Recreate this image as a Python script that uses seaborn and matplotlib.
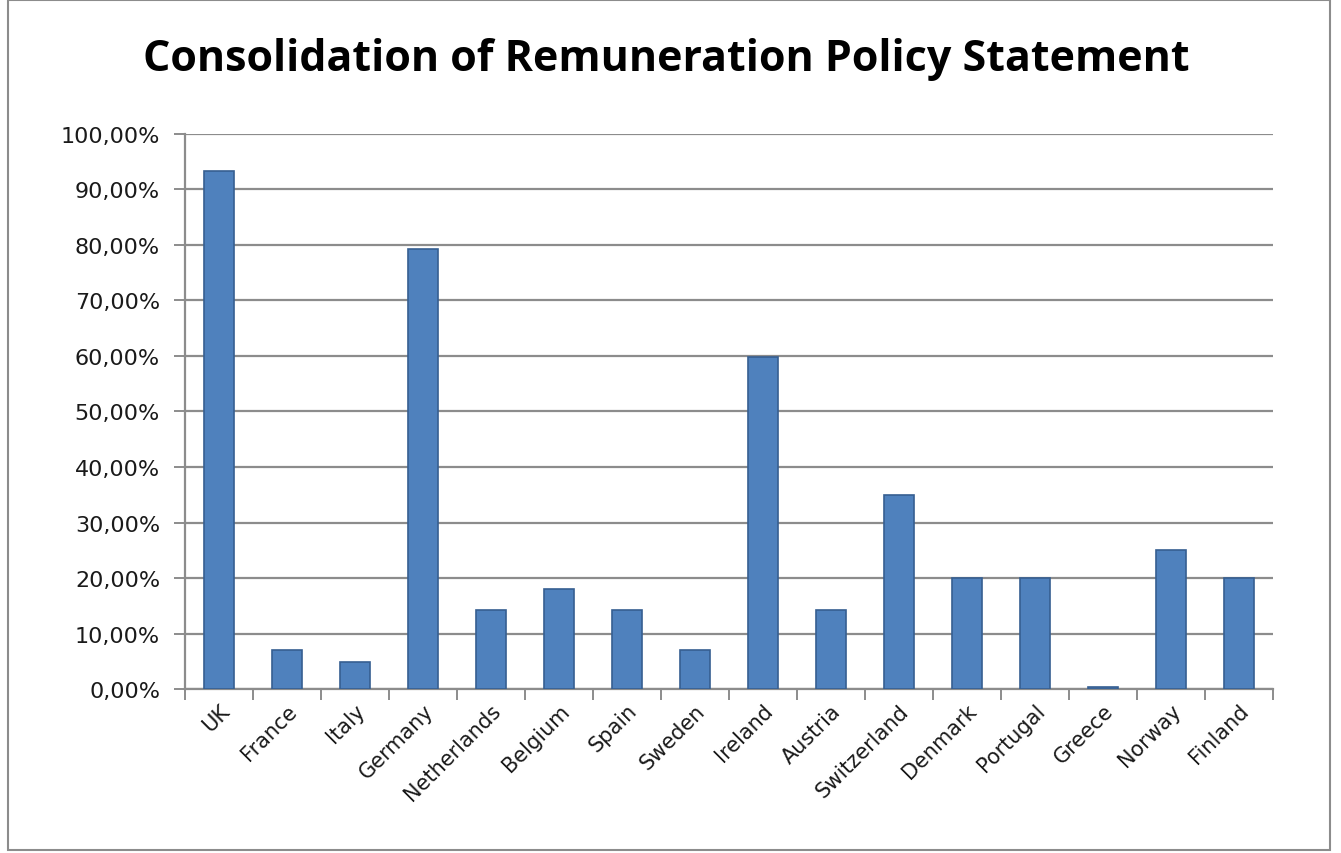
import matplotlib
matplotlib.use("Agg")
import matplotlib.pyplot as plt
import seaborn as sns
import pandas as pd
from matplotlib.ticker import FuncFormatter
from matplotlib.patches import Rectangle

countries = ["UK", "France", "Italy", "Germany", "Netherlands", "Belgium", "Spain",
             "Sweden", "Ireland", "Austria", "Switzerland", "Denmark", "Portugal",
             "Greece", "Norway", "Finland"]
values = [93.3, 7.1, 4.8, 79.3, 14.3, 18.0, 14.3, 7.0, 59.8, 14.3, 35.0, 20.0, 20.0,
          0.3, 25.0, 20.0]
title = "Consolidation of Remuneration Policy Statement"

df = pd.DataFrame({"country": countries, "value": values})

sns.set_theme(style="white")
plt.rcParams["font.family"] = ["DejaVu Sans"]

fig = plt.figure(figsize=(13.41, 8.54), dpi=100)
ax = fig.add_axes([0.138, 0.192, 0.811, 0.650])

sns.barplot(data=df, x="country", y="value", color="#4F81BD", width=0.44,
            edgecolor="#365F91", linewidth=1.2, saturation=1, ax=ax, zorder=3)

ax.set_ylim(0, 100)
ax.set_xlim(-0.5, len(countries) - 0.5)
ax.set_yticks(range(0, 101, 10))
ax.yaxis.set_major_formatter(FuncFormatter(lambda v, p: f"{v:.2f}".replace(".", ",") + "%"))
ax.grid(axis="y", color="#8c8c8c", linewidth=1.6, zorder=0)
ax.set_axisbelow(True)
ax.set_xlabel("")
ax.set_ylabel("")

for s in ["top", "right"]:
    ax.spines[s].set_visible(False)
for s in ["left", "bottom"]:
    ax.spines[s].set_color("#8c8c8c")
    ax.spines[s].set_linewidth(1.6)

ax.tick_params(axis="y", length=8, width=1.4, color="#8c8c8c", labelsize=16,
               labelcolor="#1a1a1a", direction="out", left=True, pad=10)
ax.tick_params(axis="x", length=0, labelsize=15, labelcolor="#1a1a1a", pad=8)
# category boundary ticks
ax.set_xticks([i - 0.5 for i in range(len(countries) + 1)], minor=True)
ax.tick_params(axis="x", which="minor", length=8, width=1.4, color="#8c8c8c",
               direction="out", bottom=True)
ax.set_xticks(range(len(countries)))
ax.set_xticklabels(countries, rotation=45, ha="right", rotation_mode="anchor")

fig.text(0.497, 0.93, title, ha="center", va="center", fontsize=31,
         fontweight="bold", family=["Open Sans", "DejaVu Sans"], color="#000000")

fig.patches.append(Rectangle((0.006, 0.003), 0.986, 0.996, transform=fig.transFigure,
                             fill=False, edgecolor="#8c8c8c", linewidth=1.5))

fig.savefig("out.png", dpi=100)
